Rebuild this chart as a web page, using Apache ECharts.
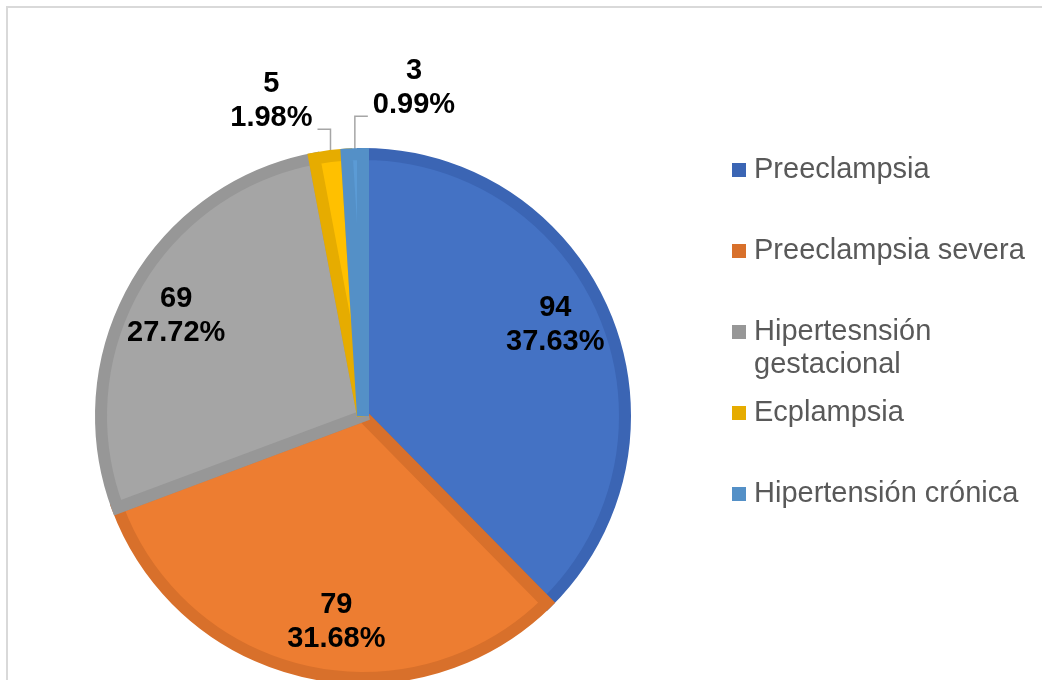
<!DOCTYPE html>
<html>
<head>
<meta charset="utf-8">
<script src="https://cdn.jsdelivr.net/npm/echarts@6/dist/echarts.min.js"></script>
<style>
html, body { margin:0; padding:0; background:#fff; width:1042px; height:680px; overflow:hidden; }
#frame { position:absolute; left:6px; top:6px; width:1100px; height:800px; border-left:2px solid #d9d9d9; border-top:2px solid #d9d9d9; box-sizing:border-box; }
#main { position:absolute; left:0; top:0; width:1042px; height:680px; }
</style>
</head>
<body>
<div id="frame"></div>
<div id="main"></div>
<script>
// ---- data ----
const categories = ['Preeclampsia', 'Preeclampsia severa', 'Hipertesnsión gestacional', 'Ecplampsia', 'Hipertensión crónica'];
const counts = [94, 79, 69, 5, 3];
const percents = [37.63, 31.68, 27.72, 1.98, 0.99];

// ---- styling ----
const fillColors = ['#4472C4', '#ED7D31', '#A5A5A5', '#FFC000', '#5B9BD5'];
const edgeColors = ['#3B65B4', '#D8702B', '#979797', '#E6AC00', '#5490C7'];
const leaderLen = [0, 0, 0, 27, 38];
const leaderToRight = [false, false, false, false, true];
const labelNudge = [[-3, -11], [19, 0], [-3, 4], [0, 0], [0, 0]];
const legendRowY = [170, 251, 332, 413, 494];
const FONT = '"Liberation Sans", Arial, sans-serif';

function labelText(i) { return counts[i] + '\n' + percents[i].toFixed(2) + '%'; }

const chart = echarts.init(document.getElementById('main'), null, { renderer: 'canvas' });

const outerData = categories.map((name, i) => ({
  name: name,
  value: percents[i],
  itemStyle: { color: fillColors[i], borderColor: edgeColors[i] },
  label: { show: percents[i] < 5 },
  labelLine: { show: percents[i] < 5, length: leaderLen[i] }
}));

const innerData = categories.map((name, i) => ({
  name: name,
  value: percents[i],
  label: { show: percents[i] >= 5, offset: labelNudge[i] }
}));

function legendFormatter(name) {
  if (name.length > 20) {
    return '\n' + name.replace(' ', '\n');
  }
  return name;
}

const legends = categories.map((name, i) => {
  const lines = legendFormatter(name).split('\n').length;
  const h = lines * 33;
  return {
    orient: 'vertical',
    left: 732,
    top: legendRowY[i] - h / 2,
    padding: 0,
    selectedMode: false,
    icon: 'rect',
    itemWidth: 14,
    itemHeight: 14,
    itemStyle: { borderWidth: 0 },
    data: [{ name: name, itemStyle: { color: edgeColors[i], borderWidth: 0 } }],
    formatter: legendFormatter,
    textStyle: { fontSize: 29, color: '#595959', fontFamily: FONT, lineHeight: 33, padding: [0, 0, 0, 3] }
  };
});

const option = {
  animation: false,
  backgroundColor: 'transparent',
  legend: legends,
  series: [
    {
      type: 'pie',
      center: [363, 416],
      radius: 262,
      startAngle: 90,
      clockwise: true,
      avoidLabelOverlap: false,
      emphasis: { disabled: true },
      itemStyle: { borderWidth: 12, borderJoin: 'miter', borderMiterLimit: 4 },
      label: {
        position: 'outside',
        formatter: p => labelText(p.dataIndex),
        fontSize: 29,
        fontWeight: 'bold',
        color: '#000',
        fontFamily: FONT,
        lineHeight: 34,
        align: 'center'
      },
      labelLine: {
        length2: 13,
        smooth: false,
        lineStyle: { color: '#a6a6a6', width: 1.5 }
      },
      labelLayout: function (p) {
        const pts = p.labelLinePoints;
        if (!pts || pts.length < 3) return {};
        const p0 = pts[0], p1 = pts[1], p2 = pts[2];
        const bendX = p0[0];
        const len2 = Math.abs(p2[0] - p1[0]);
        const toRight = leaderToRight[p.dataIndex];
        const endX = toRight ? bendX + len2 : bendX - len2;
        const dir = toRight ? 1 : -1;
        return {
          x: endX + dir * (5 + p.labelRect.width / 2),
          y: p2[1] + 6,
          align: 'center',
          verticalAlign: 'bottom',
          labelLinePoints: [[p0[0], p0[1]], [bendX, p1[1]], [endX, p1[1]]]
        };
      },
      data: outerData
    },
    {
      type: 'pie',
      center: [363, 416],
      radius: [150, 266],
      startAngle: 90,
      clockwise: true,
      silent: true,
      avoidLabelOverlap: false,
      emphasis: { disabled: true },
      itemStyle: { color: 'rgba(0,0,0,0)', borderWidth: 0 },
      label: {
        position: 'inside',
        formatter: p => labelText(p.dataIndex),
        fontSize: 29,
        fontWeight: 'bold',
        color: '#000',
        fontFamily: FONT,
        lineHeight: 34,
        align: 'center'
      },
      labelLine: { show: false },
      data: innerData
    }
  ]
};

chart.setOption(option);
</script>
</body>
</html>
